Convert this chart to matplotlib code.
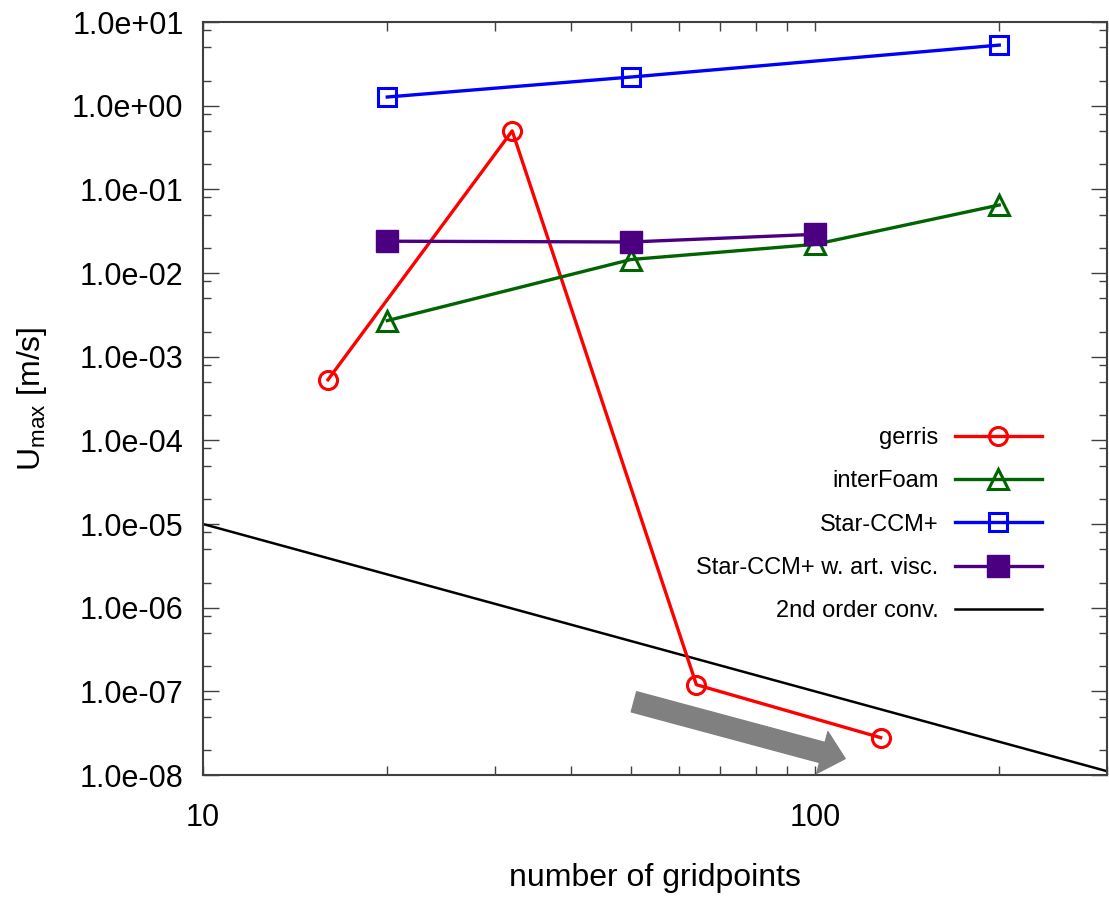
import numpy as np
import matplotlib
matplotlib.use("Agg")
import matplotlib.pyplot as plt
from matplotlib.ticker import LogLocator, FuncFormatter, NullFormatter

plt.rcParams['font.family'] = ['Liberation Sans', 'DejaVu Sans']

# data
gerris_n = [16, 32, 64, 128]
gerris_u = [5.3e-4, 0.50, 1.2e-7, 2.8e-8]

interfoam_n = [20, 50, 100, 200]
interfoam_u = [2.7e-3, 1.45e-2, 2.2e-2, 6.5e-2]

star_n = [20, 50, 200]
star_u = [1.27, 2.2, 5.3]

star_visc_n = [20, 50, 100]
star_visc_u = [2.4e-2, 2.35e-2, 2.9e-2]

conv_n = [10, 300]
conv_u = [1e-3 / n ** 2 for n in conv_n]  # 2nd order reference line

arrow_start = (50.6, 7.5e-8)
arrow_end = (112, 1.57e-8)

fig = plt.figure(figsize=(11.09, 8.99), dpi=100)
ax = fig.add_axes([0.1831, 0.1379, 0.8151, 0.8376])

ax.plot(gerris_n, gerris_u, color='#ff0000', lw=2.4, marker='o', ms=13,
        mfc='none', mew=2.2, label='gerris', zorder=3)
ax.plot(interfoam_n, interfoam_u, color='#006400', lw=2.4, marker='^', ms=15,
        mfc='none', mew=2.2, label='interFoam', zorder=3)
ax.plot(star_n, star_u, color='#0000ff', lw=2.4, marker='s', ms=13,
        mfc='none', mew=2.2, label='Star-CCM+', zorder=3)
ax.plot(star_visc_n, star_visc_u, color='#4b0082', lw=2.4, marker='s', ms=16,
        label='Star-CCM+ w. art. visc.', zorder=3)
ax.plot(conv_n, conv_u, color='black', lw=1.8, label='2nd order conv.', zorder=2)

ax.annotate('', xy=arrow_end, xytext=arrow_start,
            arrowprops=dict(arrowstyle='simple,tail_width=1.5,head_width=3.1,head_length=1.7',
                            mutation_scale=10, color='#808080', shrinkA=0, shrinkB=0),
            zorder=1)

ax.set_xscale('log')
ax.set_yscale('log')
ax.set_xlim(10, 300)
ax.set_ylim(1e-8, 10)

ax.xaxis.set_major_locator(LogLocator(base=10, subs=(1.0,)))
ax.xaxis.set_minor_locator(LogLocator(base=10, subs=np.arange(2, 10)))
ax.xaxis.set_major_formatter(FuncFormatter(lambda v, p: '%g' % v))
ax.xaxis.set_minor_formatter(NullFormatter())
ax.yaxis.set_major_locator(LogLocator(base=10, subs=(1.0,), numticks=20))
ax.yaxis.set_minor_locator(LogLocator(base=10, subs=(2, 5, 8), numticks=20))
ax.yaxis.set_major_formatter(FuncFormatter(lambda v, p: '%.1e' % v))
ax.yaxis.set_minor_formatter(NullFormatter())

for s in ax.spines.values():
    s.set_color('#404040')
    s.set_linewidth(1.5)

ax.tick_params(which='both', direction='in', top=True, right=True,
               color='#404040', width=1.0, labelsize=22)
ax.tick_params(axis='y', which='major', length=11.5, pad=14)
ax.tick_params(axis='y', which='minor', length=6)
ax.tick_params(axis='x', which='both', length=6.5, pad=20)

ax.set_xlabel('number of gridpoints', fontsize=23, labelpad=22)
ax.set_ylabel(r'$\mathregular{U_{max}}$ [m/s]', fontsize=23)
ax.yaxis.set_label_coords(-0.17, 0.5)

leg = ax.legend(loc='upper right', bbox_to_anchor=(0.928, 0.462),
                frameon=False, markerfirst=False, fontsize=17,
                handlelength=3.7, handletextpad=0.68, labelspacing=0.9,
                borderpad=0, borderaxespad=0)

fig.savefig('out.png', dpi=100)
